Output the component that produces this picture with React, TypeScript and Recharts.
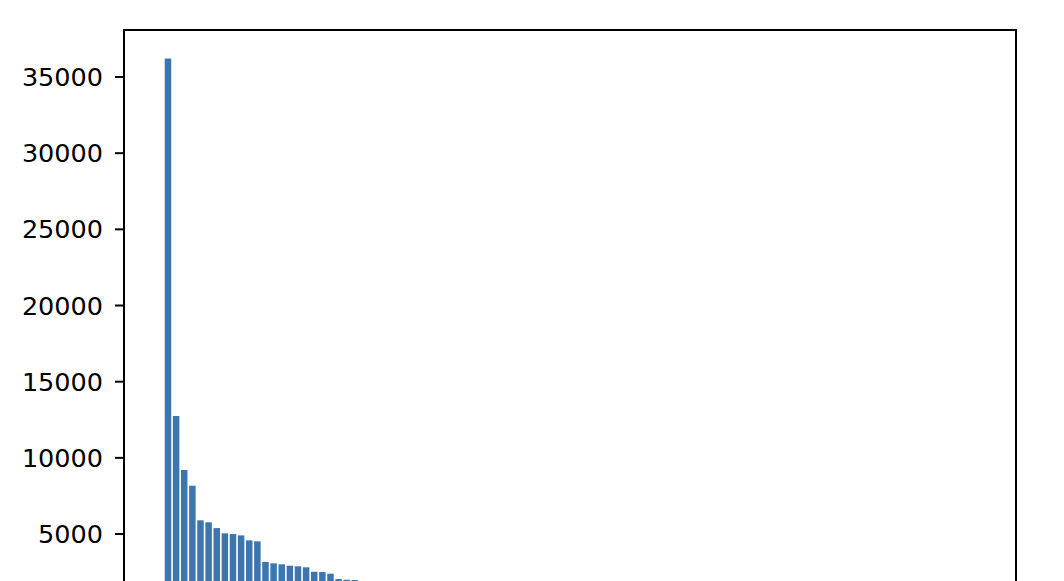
import React from 'react';
import { BarChart, Bar, XAxis, YAxis, ReferenceArea } from 'recharts';

// bar heights, sorted descending (tail below ~1900 is cut off in the reference)
const counts = [
  36220, 12740, 9200, 8170, 5900, 5770, 5390, 5045, 5000, 4910, 4585, 4520,
  3170, 3075, 3010, 2920, 2880, 2815, 2525, 2505, 2395, 2045, 2000, 1980,
  1870, 1840, 1790, 1760, 1720, 1690, 1650, 1610, 1560, 1520, 1480, 1440, 1390, 1340,
  1280, 1230, 1180, 1120, 1070, 1030, 980, 940, 900, 860,
  820, 790, 760, 730, 700, 670, 640, 610, 585, 560,
  535, 510, 490, 470, 450, 430, 410, 390, 375, 360,
  345, 330, 315, 300, 285, 270, 258, 246, 234, 222,
  210, 200, 190, 180, 170, 160, 150, 142, 134, 126,
  118, 110, 102, 95, 88, 81, 74, 67, 60, 53,
  46, 40,
];

// the 0 tick sits below the visible window, so only these show
const yTicks = [5000, 10000, 15000, 20000, 25000, 30000, 35000];
const yMax = 38086;
// bar index range plus matplotlib-style 5% margins
const xDomain = [-5.39, 104.39];

const data = counts.map((value, i) => ({ idx: i, value }));

const font = { fontFamily: 'DejaVu Sans', fontSize: 25.5, fill: '#000' };

export default function App() {
  return (
    <div style={{ position: 'absolute', top: 0, left: 0, width: 1064, height: 581, overflow: 'hidden', background: '#fff' }}>
      <BarChart
        width={1064}
        height={700}
        data={data}
        margin={{ top: 30, right: 48, left: 0, bottom: 29.8 }}
      >
        <XAxis
          dataKey="idx"
          type="number"
          domain={xDomain}
          allowDataOverflow
          height={60}
          tick={false}
          tickLine={false}
          axisLine={{ stroke: '#000', strokeWidth: 2 }}
        />
        <YAxis
          width={124}
          domain={[0, yMax]}
          ticks={yTicks}
          allowDataOverflow
          tick={font}
          tickSize={9}
          tickMargin={12}
          tickLine={{ stroke: '#000', strokeWidth: 2 }}
          axisLine={{ stroke: '#000', strokeWidth: 2 }}
        />
        <ReferenceArea
          y1={0}
          y2={yMax}
          fill="none"
          stroke="#000"
          strokeWidth={2}
          ifOverflow="visible"
        />
        <Bar dataKey="value" fill="#3b76af" barSize={6.5} isAnimationActive={false} />
      </BarChart>
    </div>
  );
}
